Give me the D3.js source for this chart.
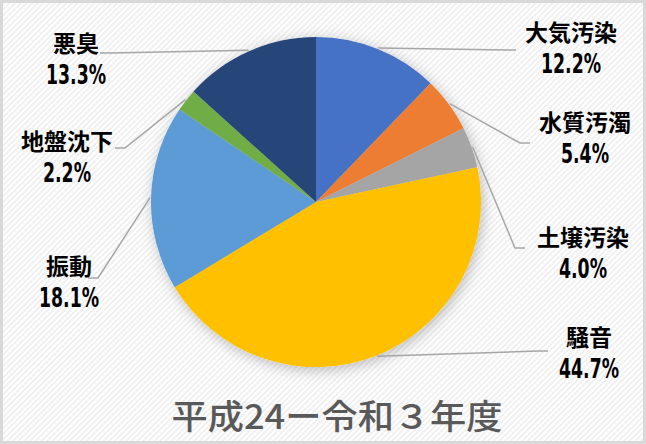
<!DOCTYPE html>
<html>
<head>
<meta charset="utf-8">
<script src="https://cdn.jsdelivr.net/npm/d3@7"></script>
<style>
  html, body { margin: 0; padding: 0; background: #fff; }
  svg { display: block; }
  .lbl { font-family: "Noto Sans CJK JP", "Noto Sans", sans-serif; font-weight: 700; fill: #000; }
  .pct { font-family: "DejaVu Sans Condensed", "DejaVu Sans", sans-serif; font-weight: 700; fill: #000; }
</style>
</head>
<body>
<svg id="chart" width="646" height="444"></svg>
<script>
// data, clockwise from 12 o'clock
const categories = ["大気汚染", "水質汚濁", "土壌汚染", "騒音", "振動", "地盤沈下", "悪臭"];
const shares = [12.2, 5.4, 4.0, 44.7, 18.1, 2.2, 13.3];
const colors = ["#4472C4", "#ED7D31", "#A5A5A5", "#FFC000", "#5B9BD5", "#70AD47", "#264478"];
const title = "平成24ー令和３年度";

// label placement (hand placed in the original, like Excel does)
// [text center x, text baseline y, leader end x, leader end y, elbow direction]
const labelPos = [
  [571, 41, 516, 50, -1],
  [585, 131, 530, 143, -1],
  [583, 246, 525, 248, -1],
  [589, 346, 548, 351, -1],
  [69, 275, 88, 278, 1],
  [67, 150, 115, 148, 1],
  [76, 52, 100, 53, 1]
];

const W = 646, H = 444;
const cx = 316, cy = 202, r = 165;

const svg = d3.select("#chart");
const defs = svg.append("defs");

// faint diagonal stripes like the Excel chart area fill
const pat = defs.append("pattern")
  .attr("id", "stripes")
  .attr("width", 4).attr("height", 4)
  .attr("patternUnits", "userSpaceOnUse")
  .attr("patternTransform", "rotate(45)");
pat.append("rect").attr("width", 4).attr("height", 4).attr("fill", "#fff");
pat.append("rect").attr("width", 2).attr("height", 4).attr("fill", "#f0f0f0");

const shadow = defs.append("filter")
  .attr("id", "shadow")
  .attr("x", "-20%").attr("y", "-20%")
  .attr("width", "140%").attr("height", "140%");
shadow.append("feDropShadow")
  .attr("dx", 2).attr("dy", 3)
  .attr("stdDeviation", 7)
  .attr("flood-color", "#000")
  .attr("flood-opacity", 0.25);

svg.append("rect")
  .attr("x", 1.5).attr("y", 1.5)
  .attr("width", W - 3).attr("height", H - 3)
  .attr("fill", "url(#stripes)")
  .attr("stroke", "#d9d9d9")
  .attr("stroke-width", 3);

const pie = d3.pie().sort(null).value(d => d)
const arcs = pie(shares);
const arc = d3.arc().innerRadius(0).outerRadius(r);
const edge = d3.arc().innerRadius(r + 1).outerRadius(r + 1);

const g = svg.append("g").attr("transform", `translate(${cx},${cy})`);

g.append("g").attr("filter", "url(#shadow)")
  .selectAll("path")
  .data(arcs)
  .join("path")
  .attr("d", arc)
  .attr("fill", (d, i) => colors[i]);

// leader lines
svg.append("g")
  .selectAll("polyline")
  .data(arcs)
  .join("polyline")
  .attr("points", (d, i) => {
    const [ex, ey] = edge.centroid(d);
    const p = labelPos[i];
    return [[cx + ex, cy + ey], [p[2] + p[4] * 10, p[3]], [p[2], p[3]]].map(q => q.join(",")).join(" ");
  })
  .attr("fill", "none")
  .attr("stroke", "#a6a6a6")
  .attr("stroke-width", 1.5);

// labels
const lbl = svg.append("g")
  .selectAll("g")
  .data(arcs)
  .join("g");

lbl.append("text")
  .attr("class", "lbl")
  .attr("x", (d, i) => labelPos[i][0])
  .attr("y", (d, i) => labelPos[i][1])
  .attr("text-anchor", "middle")
  .attr("font-size", 23)
  .text((d, i) => categories[i]);

lbl.append("text")
  .attr("class", "pct")
  .attr("x", (d, i) => labelPos[i][0])
  .attr("y", (d, i) => labelPos[i][1] + 32)
  .attr("text-anchor", "middle")
  .attr("font-size", 27)
  .attr("textLength", (d, i) => d3.format(".1f")(shares[i]).length * 12 + 12)
  .attr("lengthAdjust", "spacingAndGlyphs")
  .text((d, i) => d3.format(".1f")(shares[i]) + "%");

svg.append("text")
  .attr("x", 337)
  .attr("y", 429)
  .attr("text-anchor", "middle")
  .attr("font-family", "\"Noto Sans CJK JP\", sans-serif")
  .attr("font-weight", 500)
  .attr("font-size", 34)
  .attr("fill", "#595959")
  .attr("textLength", 331)
  .attr("lengthAdjust", "spacingAndGlyphs")
  .text(title);
</script>
</body>
</html>
